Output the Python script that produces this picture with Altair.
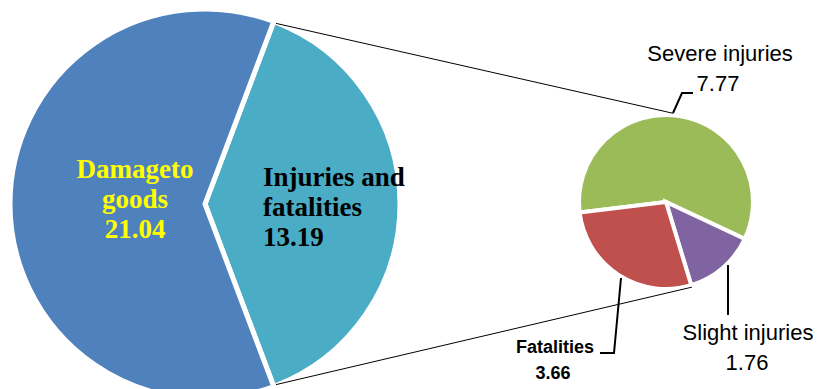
import math
import altair as alt
import pandas as pd

# ---------------- data ----------------
main_categories = ["Injuries and fatalities", "Damage to goods"]
main_values = [13.19, 21.04]
sub_categories = ["Severe injuries", "Slight injuries", "Fatalities"]
sub_values = [7.77, 1.76, 3.66]

all_categories = main_categories + sub_categories
palette = ["#4BACC6", "#4F81BD", "#9BBB59", "#8064A2", "#C0504D"]

# ---------------- layout ----------------
W, H = 822, 389
BIG_CX, BIG_CY, BIG_R = 205, 204, 195
SUB_CX, SUB_CY, SUB_R = 666, 202, 87
TWO_PI = 2 * math.pi

main_frac = main_values[0] / sum(main_values)
big_start = math.pi / 2 - main_frac * math.pi
sub_start = math.radians(-97)

main_df = pd.DataFrame({"cat": main_categories, "value": main_values,
                        "ord": list(range(len(main_values)))})
sub_df = pd.DataFrame({"cat": sub_categories, "value": sub_values,
                       "ord": list(range(len(sub_values)))})

color = alt.Color("cat:N", scale=alt.Scale(domain=all_categories, range=palette),
                  legend=None)

big_pie = alt.Chart(main_df).mark_arc(stroke="white", strokeWidth=5).encode(
    theta=alt.Theta("value:Q", stack=True,
                    scale=alt.Scale(range=[big_start, big_start + TWO_PI])),
    order=alt.Order("ord:Q"),
    color=color,
    x=alt.value(BIG_CX), y=alt.value(BIG_CY), radius=alt.value(BIG_R),
)

sub_pie = alt.Chart(sub_df).mark_arc(stroke="white", strokeWidth=4).encode(
    theta=alt.Theta("value:Q", stack=True,
                    scale=alt.Scale(range=[sub_start, sub_start + TWO_PI])),
    order=alt.Order("ord:Q"),
    color=color,
    x=alt.value(SUB_CX), y=alt.value(SUB_CY), radius=alt.value(SUB_R),
)

# connector lines between the pies (computed from pie geometry)
def pt(cx, cy, r, ang):
    return cx + r * math.sin(ang), cy - r * math.cos(ang)

sub_boundary = sub_start + (sub_values[0] + sub_values[1]) / sum(sub_values) * TWO_PI
p1 = pt(BIG_CX + 3, BIG_CY, BIG_R - 2, big_start)
p2 = pt(SUB_CX, SUB_CY, SUB_R + 2, math.radians(4.5))
p3 = pt(BIG_CX + 3, BIG_CY, BIG_R - 2, math.pi - big_start)
p4 = pt(SUB_CX, SUB_CY, SUB_R + 2, sub_boundary)
conn_df = pd.DataFrame({"x": [p1[0], p3[0]], "y": [p1[1], p3[1]],
                        "x2": [p2[0], p4[0]], "y2": [p2[1], p4[1]]})
connectors = alt.Chart(conn_df).mark_rule(color="black", strokeWidth=1).encode(
    x=alt.X("x:Q", scale=None), y=alt.Y("y:Q", scale=None),
    x2="x2:Q", y2="y2:Q",
)

# leader lines
lead_id = ["sev", "sev", "sev", "sli", "sli", "fat", "fat", "fat"]
lead_seq = [0, 1, 2, 0, 1, 0, 1, 2]
lead_x = [673, 682, 693, 728, 728, 621, 614, 600]
lead_y = [113, 93, 93, 265, 315, 278, 353, 353]
lead_df = pd.DataFrame({"id": lead_id, "seq": lead_seq, "x": lead_x, "y": lead_y})
leaders = alt.Chart(lead_df).mark_line(color="black", strokeWidth=2).encode(
    x=alt.X("x:Q", scale=None), y=alt.Y("y:Q", scale=None),
    detail="id:N", order="seq:Q",
)

# labels
def text_layer(texts, xs, ys, align="center", **kw):
    df = pd.DataFrame({"t": texts, "x": xs, "y": ys})
    return alt.Chart(df).mark_text(align=align, baseline="middle", **kw).encode(
        x=alt.X("x:Q", scale=None), y=alt.Y("y:Q", scale=None), text="t:N")

dmg = text_layer(["Damageto", "goods", "21.04"], [135, 135, 135], [170, 200, 230],
                 font="Liberation Serif", fontSize=27, fontWeight="bold", color="#FFFF00")
inj = text_layer(["Injuries and", "fatalities", "13.19"], [263, 263, 263], [178, 208, 238],
                 align="left", font="Liberation Serif", fontSize=27, fontWeight="bold",
                 color="black")
sev = text_layer(["Severe injuries", "7.77"], [720, 718], [54, 84],
                 font="Liberation Sans", fontSize=22, color="black")
sli = text_layer(["Slight injuries", "1.76"], [748, 747], [333, 363],
                 font="Liberation Sans", fontSize=22, color="black")
fat = text_layer(["Fatalities", "3.66"], [555, 553], [348, 374],
                 font="Liberation Sans", fontSize=18, fontWeight="bold", color="black")

chart = alt.layer(big_pie, sub_pie, connectors, leaders, dmg, inj, sev, sli, fat).resolve_scale(
    theta="independent"
).properties(
    width=W, height=H, padding=0, autosize=alt.AutoSizeParams(type="none"),
    background="white",
).configure_view(stroke=None)

chart.save("out.html", embed_options={"renderer": "svg", "actions": False})
